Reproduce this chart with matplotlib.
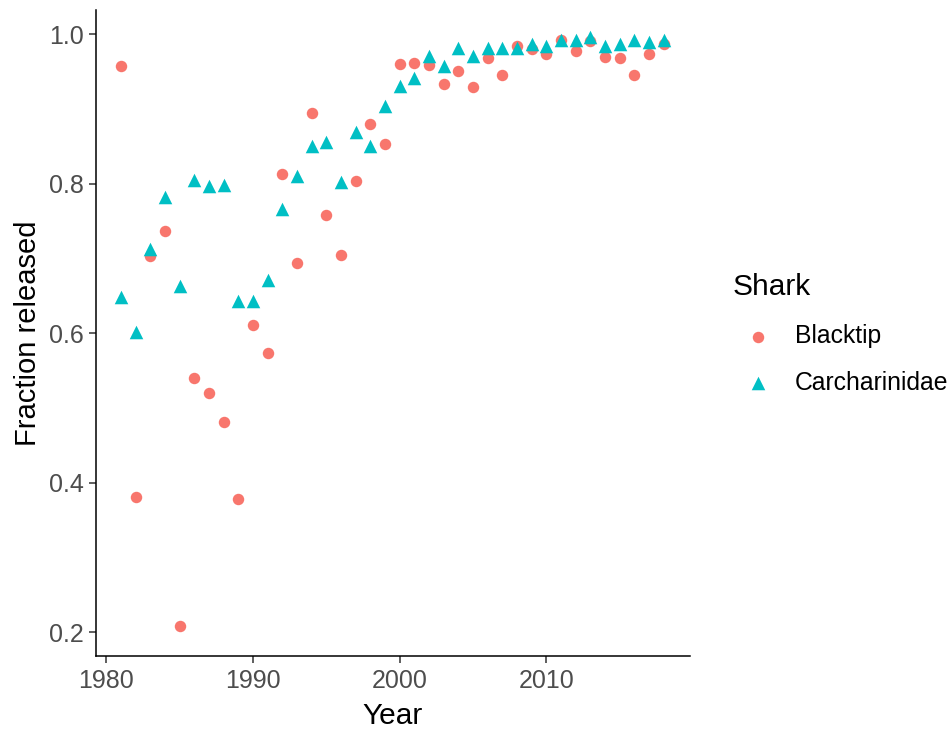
import matplotlib
matplotlib.use("Agg")
import matplotlib.pyplot as plt

# data
years = list(range(1981, 2019))
blacktip = [0.957, 0.381, 0.704, 0.737, 0.208, 0.540, 0.520, 0.481, 0.379, 0.611,
            0.574, 0.813, 0.694, 0.895, 0.758, 0.705, 0.804, 0.880, 0.853, 0.960,
            0.962, 0.959, 0.933, 0.951, 0.930, 0.968, 0.946, 0.984, 0.980, 0.973,
            0.992, 0.978, 0.991, 0.970, 0.968, 0.946, 0.973, 0.987]
carcharinidae = [0.649, 0.602, 0.713, 0.783, 0.663, 0.805, 0.797, 0.799, 0.643, 0.643,
                 0.671, 0.767, 0.810, 0.850, 0.856, 0.802, 0.869, 0.850, 0.904, 0.931,
                 0.942, 0.971, 0.957, 0.982, 0.971, 0.982, 0.982, 0.982, 0.987, 0.984,
                 0.992, 0.992, 0.997, 0.984, 0.987, 0.992, 0.990, 0.992]
series = ["Blacktip", "Carcharinidae"]
colors = ["#F8766D", "#00BFC4"]
markers = ["o", "^"]

plt.rcParams['font.family'] = ['Liberation Sans', 'DejaVu Sans']

W, H = 953, 732
fig = plt.figure(figsize=(W / 100, H / 100), dpi=100)
ax = fig.add_axes([96 / W, (H - 656) / H, (690 - 96) / W, (656 - 10) / H])

ax.scatter(years, blacktip, s=68, marker=markers[0], color=colors[0],
           linewidths=0, label=series[0], zorder=3)
ax.scatter(years, carcharinidae, s=95, marker=markers[1], color=colors[1],
           linewidths=0, label=series[1], zorder=3)

ax.set_xlim(1979.3, 2019.8)
ax.set_ylim(0.1685, 1.0325)
ax.set_xticks([1980, 1990, 2000, 2010])
ax.set_yticks([0.2, 0.4, 0.6, 0.8, 1.0])
ax.set_yticklabels(["0.2", "0.4", "0.6", "0.8", "1.0"])

for side in ["top", "right"]:
    ax.spines[side].set_visible(False)
for side in ["left", "bottom"]:
    ax.spines[side].set_linewidth(1.1)
    ax.spines[side].set_color("black")
ax.tick_params(axis="both", length=5, width=1.1, color="#333333",
               labelsize=18, labelcolor="#4D4D4D", pad=4)

ax.set_xlabel("Year", fontsize=21.5, labelpad=7)
ax.set_ylabel("Fraction released", fontsize=21, labelpad=5)

leg = ax.legend(title="Shark", loc="upper left", frameon=False,
                bbox_to_anchor=(723 / W, 1 - 263 / H),
                bbox_transform=fig.transFigure,
                fontsize=17.8, title_fontsize=21.5, handletextpad=0.5,
                labelspacing=0.9, borderaxespad=0)
leg._legend_box.align = "left"
leg._legend_box.sep = 17

fig.savefig("out.png", dpi=100, facecolor="white")
